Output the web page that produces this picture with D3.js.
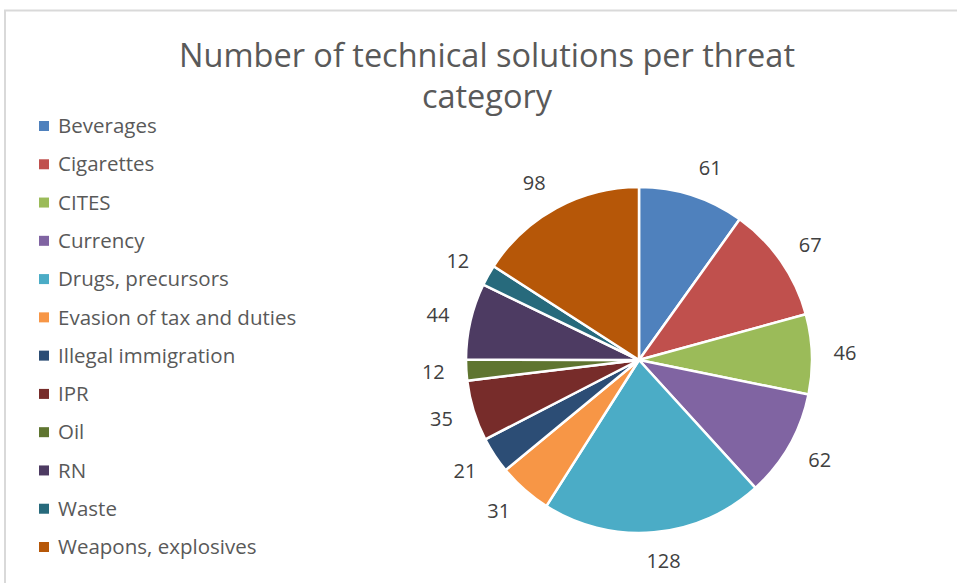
<!DOCTYPE html>
<html>
<head>
<meta charset="utf-8">
<script src="https://cdn.jsdelivr.net/npm/d3@7"></script>
<style>
  html, body { margin: 0; padding: 0; background: #fff; }
  svg { display: block; }
</style>
</head>
<body>
<div class="container"></div>
<script>
const width = 957;
const height = 583;

// dados
const categorias = ['Beverages', 'Cigarettes', 'CITES', 'Currency', 'Drugs, precursors',
  'Evasion of tax and duties', 'Illegal immigration', 'IPR', 'Oil', 'RN', 'Waste',
  'Weapons, explosives'];
const valores = [61, 67, 46, 62, 128, 31, 21, 35, 12, 44, 12, 98];
const cores = ['#4F81BD', '#C0504D', '#9BBB59', '#8064A2', '#4BACC6', '#F79646',
  '#2C4D75', '#772C2A', '#5F7530', '#4D3B62', '#276A7C', '#B65708'];
const titulo = ['Number of technical solutions per threat', 'category'];

const fonte = '"Open Sans", sans-serif';
const dados = categorias.map((c, i) => ({ categoria: c, valor: valores[i] }));

const svg = d3.select('.container')
  .append('svg')
  .attr('width', width)
  .attr('height', height);

// moldura do grafico
svg.append('rect')
  .attr('x', 5)
  .attr('y', 10.5)
  .attr('width', 1200)
  .attr('height', 1200)
  .attr('fill', '#fff')
  .attr('stroke', '#d9d9d9')
  .attr('stroke-width', 2);

// titulo
svg.append('text')
  .attr('x', 487)
  .attr('y', 67)
  .attr('text-anchor', 'middle')
  .attr('font-family', fonte)
  .attr('font-size', '32.5px')
  .attr('fill', '#595959')
  .selectAll('tspan')
  .data(titulo)
  .enter()
  .append('tspan')
  .attr('x', 487)
  .attr('dy', (d, i) => i === 0 ? 0 : 41)
  .text(d => d);

const cor = d3.scaleOrdinal().domain(categorias).range(cores);

// pizza
const cx = 639, cy = 360, raio = 173;
const pie = d3.pie().sort(null).value(d => d.valor);
const arcos = pie(dados);
const arc = d3.arc().innerRadius(0).outerRadius(raio);

const g = svg.append('g')
  .attr('transform', `translate(${cx}, ${cy})`);

g.selectAll('path')
  .data(arcos)
  .enter()
  .append('path')
  .attr('d', arc)
  .attr('fill', d => cor(d.data.categoria))
  .attr('stroke', '#fff')
  .attr('stroke-width', 2.5)
  .attr('stroke-linejoin', 'round');

// rotulos por fora (parecido com o Excel)
const raioRotulo = raio + 21;
function posRotulo(d) {
  const a = (d.startAngle + d.endAngle) / 2;
  const s = Math.sin(a), c = -Math.cos(a);
  const hw = String(d.data.valor).length * 6;
  const hh = 8;
  const x = raioRotulo * s + hw * Math.max(-1, Math.min(1, s * 5));
  const y = raioRotulo * c + hh * c;
  return [x, y];
}

g.selectAll('text.rotulo')
  .data(arcos)
  .enter()
  .append('text')
  .attr('class', 'rotulo')
  .attr('x', d => posRotulo(d)[0])
  .attr('y', d => posRotulo(d)[1])
  .attr('dy', '0.35em')
  .attr('text-anchor', 'middle')
  .attr('font-family', fonte)
  .attr('font-size', '20px')
  .attr('fill', '#404040')
  .text(d => d.data.valor);

// legenda
const y = d3.scalePoint()
  .domain(categorias)
  .range([126, 547]);

const legenda = svg.append('g')
  .attr('class', 'legenda');

const itens = legenda.selectAll('g')
  .data(categorias)
  .enter()
  .append('g')
  .attr('transform', d => `translate(39, ${y(d)})`);

itens.append('rect')
  .attr('x', 0)
  .attr('y', -5)
  .attr('width', 10)
  .attr('height', 10)
  .attr('fill', d => cor(d));

itens.append('text')
  .attr('x', 19)
  .attr('y', 0)
  .attr('dy', '0.35em')
  .attr('font-family', fonte)
  .attr('font-size', '20.5px')
  .attr('fill', '#595959')
  .text(d => d);
</script>
</body>
</html>
